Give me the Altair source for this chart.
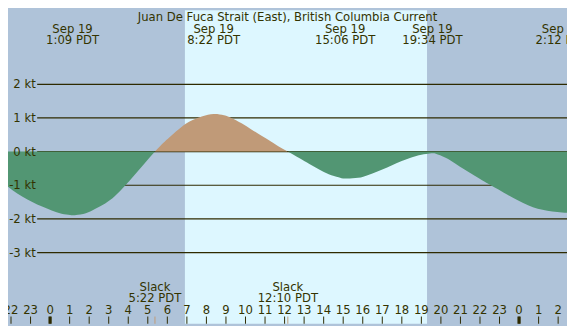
import altair as alt
import pandas as pd

W, H = 567, 318
SX, SY = W / 575, H / 326

NIGHT = "#afc3d9"
DAY = "#ddf7ff"
EBB = "#529673"
FLOOD = "#c09a78"
INK = "#333300"
LINE = "#2e2a00"
FONT = "DejaVu Sans"
FS = 11.8

# current speed (hours since Sep 19 00:00 PDT, knots),
# one list per stretch between slack waters
ebb1_hours = [-2.2, -1.66, -1.16, -0.66, -0.16, 0.33, 0.83, 1.15, 1.33, 1.83, 2.32, 2.82,
              3.32, 3.82, 4.31, 4.81, 5.367]
ebb1_knots = [-1.02, -1.25, -1.42, -1.57, -1.69, -1.80, -1.87, -1.89, -1.88, -1.83, -1.70, -1.54,
              -1.32, -1.02, -0.70, -0.37, 0.0]
flood_hours = [5.367, 5.8, 6.14, 6.8, 7.3, 7.8, 8.367, 8.9, 9.3, 9.8, 10.3, 10.8, 11.3, 11.7, 12.167]
flood_knots = [0.0, 0.26, 0.44, 0.77, 0.94, 1.05, 1.12, 1.08, 0.99, 0.84, 0.66, 0.48, 0.30, 0.15, 0.0]
ebb2_hours = [12.167, 12.77, 13.27, 13.77, 14.26, 14.76, 15.1, 15.76, 16.25, 16.75, 17.25, 17.75,
              18.24, 18.74, 19.24, 19.567, 19.74, 20.24, 20.73, 21.23, 21.73, 22.22, 22.64, 23.22,
              23.71, 24.21, 24.71, 25.2, 25.7, 26.2, 26.6]
ebb2_knots = [0.0, -0.20, -0.37, -0.53, -0.67, -0.76, -0.80, -0.78, -0.70, -0.59, -0.47, -0.34,
              -0.23, -0.13, -0.07, -0.05, -0.06, -0.18, -0.35, -0.54, -0.72, -0.89, -1.03, -1.22,
              -1.38, -1.53, -1.65, -1.73, -1.78, -1.81, -1.82]

# max / min current events (top labels)
event_hours = [1.15, 8.367, 15.1, 19.567, 26.2]
event_dates = ["Sep 19", "Sep 19", "Sep 19", "Sep 19", "Sep 20"]
event_times = ["1:09 PDT", "8:22 PDT", "15:06 PDT", "19:34 PDT", "2:12 PDT"]

# slack events (bottom labels)
slack_hours = [5.367, 12.167]
slack_names = ["Slack", "Slack"]
slack_times = ["5:22 PDT", "12:10 PDT"]

# daylight
sunrise = [6.9]
sunset = [19.29]

# y grid levels
levels = [2, 1, 0, -1, -2, -3]
level_labels = ["2 kt", "1 kt", "0 kt", "-1 kt", "-2 kt", "-3 kt"]

# hour ticks
tick_hours = list(range(-2, 27))
tick_labels = ["22", "23", "0", "1", "2", "3", "4", "5", "6", "7", "8", "9", "10", "11", "12",
               "13", "14", "15", "16", "17", "18", "19", "20", "21", "22", "23", "0", "1", "2"]
midnight_hours = [0, 24]

title = "Juan De Fuca Strait (East), British Columbia Current"

xs = alt.Scale(domain=[-2.154, 26.453], nice=False, zero=False)
ys = alt.Scale(domain=[-5.114, 4.2], nice=False, zero=False)

curve = pd.concat([
    pd.DataFrame({"t": ebb1_hours, "v": ebb1_knots, "seg": "ebb1"}),
    pd.DataFrame({"t": flood_hours, "v": flood_knots, "seg": "flood"}),
    pd.DataFrame({"t": ebb2_hours, "v": ebb2_knots, "seg": "ebb2"}),
], ignore_index=True)

day_df = pd.DataFrame({"a": sunrise, "b": sunset})
lev_df = pd.DataFrame({"v": levels, "lab": level_labels})
ev_df = pd.DataFrame({"t": event_hours, "d": event_dates, "tm": event_times})
sl_df = pd.DataFrame({"t": slack_hours, "n": slack_names, "tm": slack_times})
tk_df = pd.DataFrame({"t": tick_hours, "lab": tick_labels})
mn_df = pd.DataFrame({"t": midnight_hours})
title_df = pd.DataFrame({"s": [title]})

day = alt.Chart(day_df).mark_rect(color=DAY).encode(
    x=alt.X("a:Q", scale=xs, axis=None), x2="b:Q",
    y=alt.value(0), y2=alt.value(H))

grid = alt.Chart(lev_df).mark_rule(color=LINE, strokeWidth=1.2).encode(
    x=alt.value(30 * SX), x2=alt.value(W),
    y=alt.Y("v:Q", scale=ys, axis=None))

areas = alt.Chart(curve).mark_area(interpolate="natural", opacity=1).encode(
    x=alt.X("t:Q", scale=xs, axis=None),
    y=alt.Y("v:Q", scale=ys, axis=None, stack=None), y2=alt.datum(0),
    color=alt.Color("seg:N", scale=alt.Scale(domain=["ebb1", "flood", "ebb2"],
                                             range=[EBB, FLOOD, EBB]), legend=None))

txt = dict(font=FONT, fontSize=FS, color=INK)

lev_text = alt.Chart(lev_df).mark_text(align="right", baseline="middle", **txt).encode(
    x=alt.value(28.5 * SX), y=alt.Y("v:Q", scale=ys, axis=None), text="lab:N")

title_text = alt.Chart(title_df).mark_text(align="center", baseline="middle", **txt).encode(
    x=alt.value(287.5 * SX), y=alt.value(7.5 * SY), text="s:N")

ev_date = alt.Chart(ev_df).mark_text(align="center", baseline="middle", **txt).encode(
    x=alt.X("t:Q", scale=xs, axis=None), y=alt.value(20 * SY), text="d:N")
ev_time = alt.Chart(ev_df).mark_text(align="center", baseline="middle", **txt).encode(
    x=alt.X("t:Q", scale=xs, axis=None), y=alt.value(31.5 * SY), text="tm:N")

sl_name = alt.Chart(sl_df).mark_text(align="center", baseline="middle", **txt).encode(
    x=alt.X("t:Q", scale=xs, axis=None), y=alt.value(287.5 * SY), text="n:N")
sl_time = alt.Chart(sl_df).mark_text(align="center", baseline="middle", **txt).encode(
    x=alt.X("t:Q", scale=xs, axis=None), y=alt.value(299 * SY), text="tm:N")

tk_text = alt.Chart(tk_df).mark_text(align="center", baseline="middle", **txt).encode(
    x=alt.X("t:Q", scale=xs, axis=None), y=alt.value(311.5 * SY), text="lab:N")
tk_rule = alt.Chart(tk_df).mark_rule(color=LINE, strokeWidth=1).encode(
    x=alt.X("t:Q", scale=xs, axis=None), y=alt.value(318.5 * SY), y2=alt.value(H))
mn_rule = alt.Chart(mn_df).mark_rule(color=LINE, strokeWidth=3.3).encode(
    x=alt.X("t:Q", scale=xs, axis=None), y=alt.value(318.5 * SY), y2=alt.value(H))
sl_rule = alt.Chart(sl_df).mark_rule(color=FLOOD, strokeWidth=1).encode(
    x=alt.X("t:Q", scale=xs, axis=None), y=alt.value(318.5 * SY), y2=alt.value(H))

chart = alt.layer(
    day, grid, areas, lev_text, title_text, ev_date, ev_time,
    sl_name, sl_time, tk_text, tk_rule, mn_rule, sl_rule
).properties(
    width=W, height=H,
    autosize=alt.AutoSizeParams(type="none"),
    padding=0,
    background=NIGHT,
).configure_view(stroke=None, fill=NIGHT)

chart.save("out.html", embed_options={"renderer": "svg", "actions": False})
